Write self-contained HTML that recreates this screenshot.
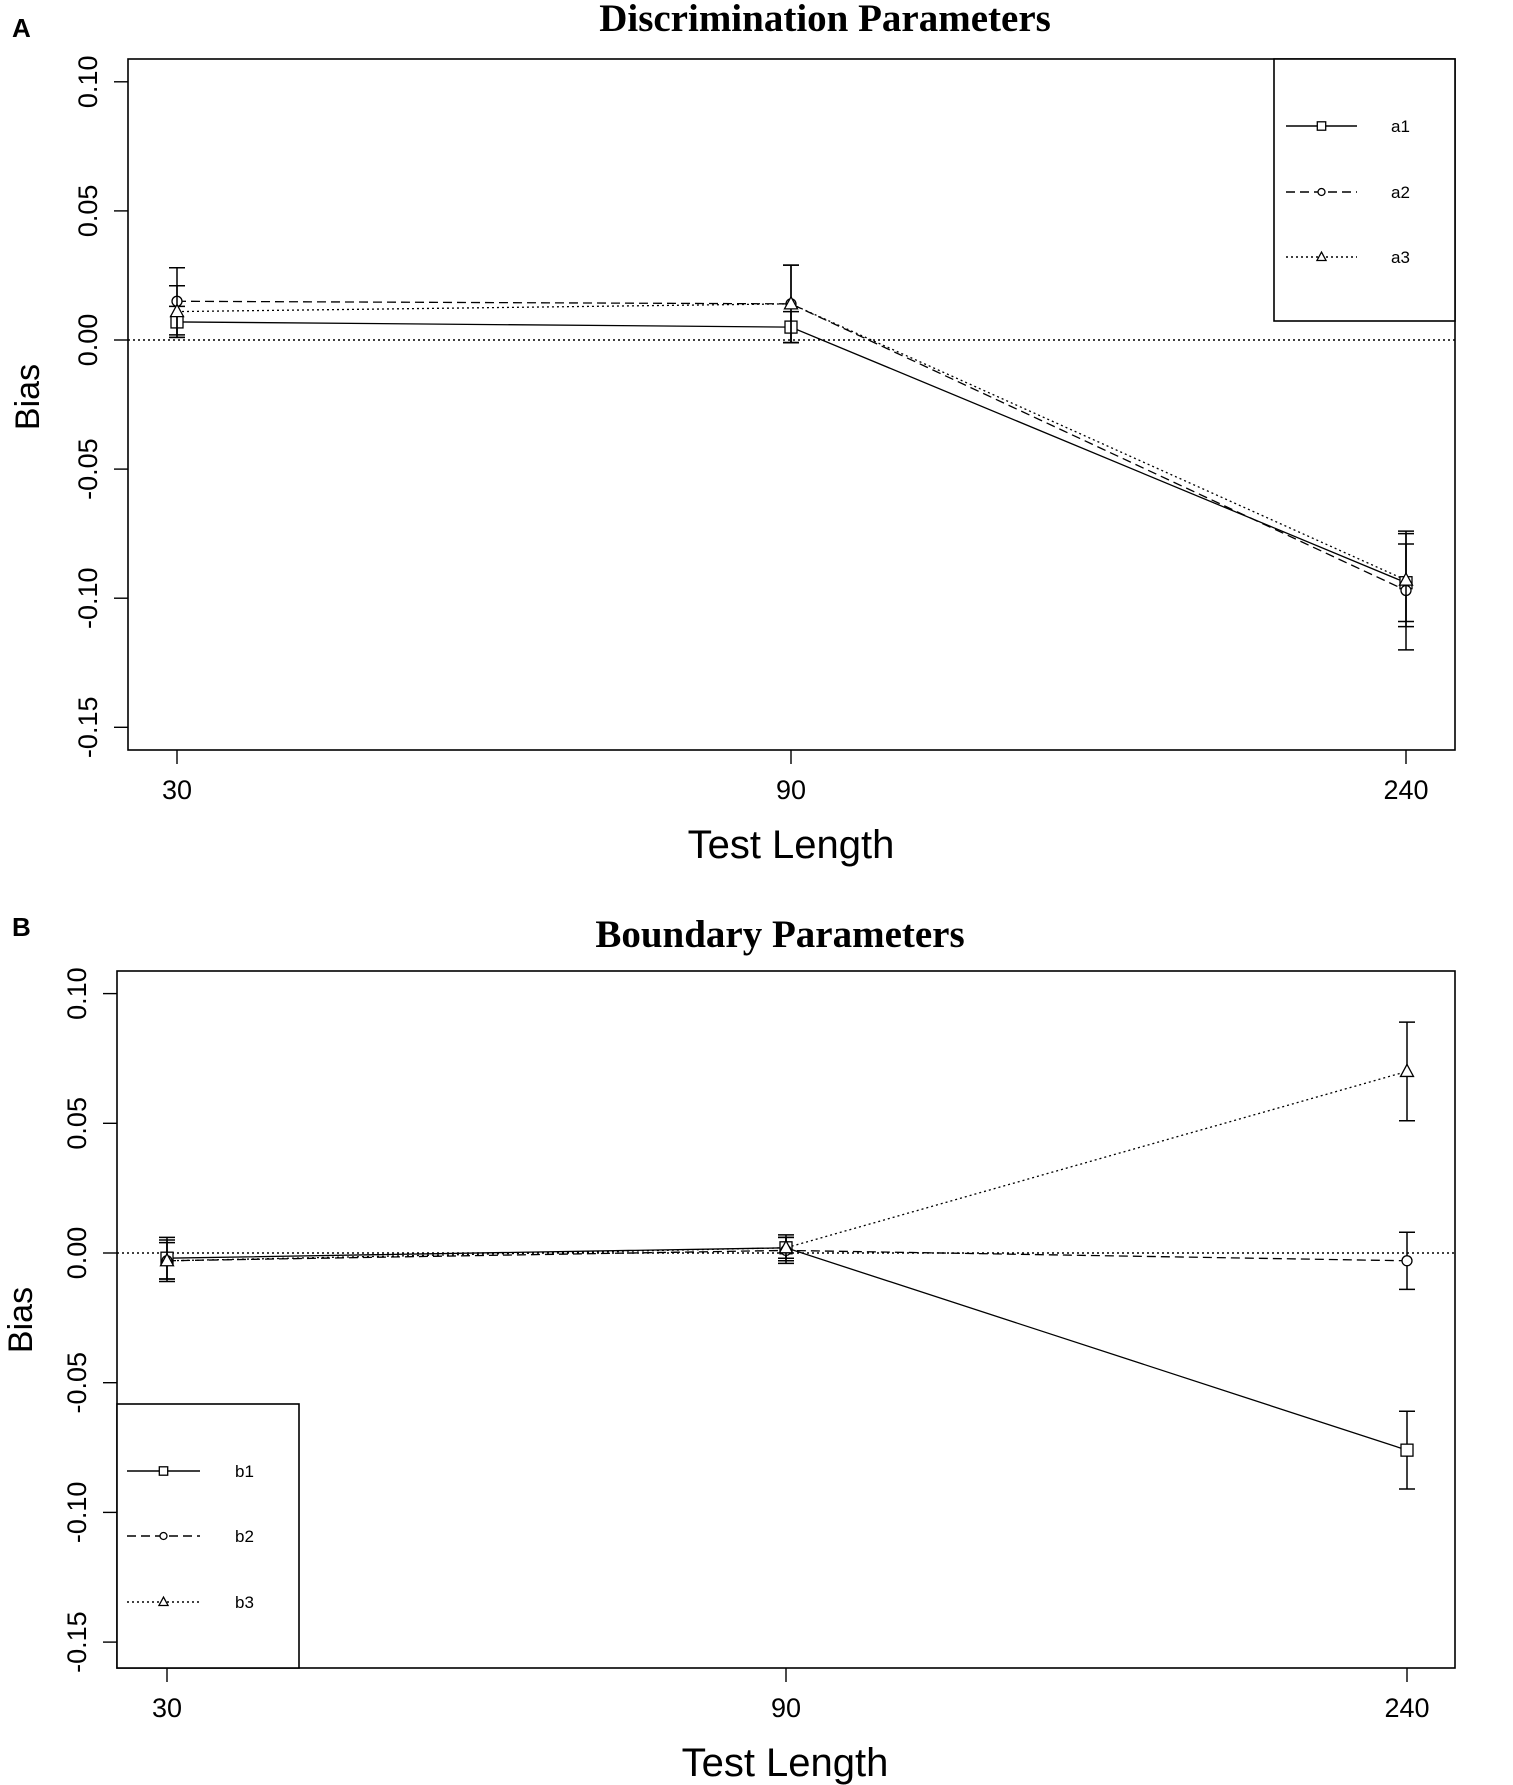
<!DOCTYPE html>
<html><head><meta charset="utf-8"><style>
html,body{margin:0;padding:0;background:#fff;}
svg{display:block;}
</style></head><body>
<svg id="fig" width="1513" height="1785" viewBox="0 0 1513 1785" xmlns="http://www.w3.org/2000/svg"></svg>
<script>
const categories = ["30","90","240"];
const yTicks = [0.10,0.05,0.00,-0.05,-0.10,-0.15];
const yTickLabels = ["0.10","0.05","0.00","-0.05","-0.10","-0.15"];
const aNames = ["a1","a2","a3"];
const a1Vals = [0.007,0.005,-0.094];
const a2Vals = [0.015,0.014,-0.097];
const a3Vals = [0.011,0.014,-0.093];
const a1Err = [0.006,0.006,0.015];
const a2Err = [0.013,0.015,0.023];
const a3Err = [0.010,0.015,0.018];
const bNames = ["b1","b2","b3"];
const b1Vals = [-0.002,0.002,-0.076];
const b2Vals = [-0.003,0.001,-0.003];
const b3Vals = [-0.003,0.002,0.070];
const b1Err = [0.008,0.004,0.015];
const b2Err = [0.008,0.005,0.011];
const b3Err = [0.007,0.005,0.019];

const NS="http://www.w3.org/2000/svg";
const svg=document.getElementById('fig');
function mk(tag,attrs,parent){const e=document.createElementNS(NS,tag);for(const k in attrs)e.setAttribute(k,attrs[k]);(parent||svg).appendChild(e);return e;}
const dashes=["none","9,5","2,3"];

function panel(cfg){
  const g=mk('g',{});
  
  
  const y=v=>cfg.y0-v/0.05*cfg.step;
  const x=i=>cfg.xs[i];
  const t=mk('text',{x:cfg.titleX,y:cfg.titleY,'text-anchor':'middle','font-family':'Liberation Serif, serif','font-weight':'bold','font-size':39},g);
  t.textContent=cfg.title;
  
  
  const L=mk('text',{x:cfg.letterX,y:cfg.letterY,'font-family':'Liberation Sans, sans-serif','font-weight':'bold','font-size':26},g);
  L.textContent=cfg.letter;
  
  
  const box=mk('rect',{x:cfg.bx,y:cfg.by,width:cfg.bw,height:cfg.bh,fill:'none',stroke:'#000','stroke-width':1.6},g);
  
  
  yTicks.forEach((v,i)=>{
    const yy=y(v);
    mk('line',{x1:cfg.bx-14,x2:cfg.bx,y1:yy,y2:yy,stroke:'#000','stroke-width':1.4},g);
    const tx=mk('text',{x:0,y:0,transform:`translate(${cfg.bx-31},${yy}) rotate(-90)`,'text-anchor':'middle','font-family':'Liberation Sans, sans-serif','font-size':27},g);
    tx.textContent=yTickLabels[i];
    
    
  });
  const yl=mk('text',{x:0,y:0,transform:`translate(${cfg.biasX},${cfg.biasY}) rotate(-90)`,'text-anchor':'middle','font-family':'Liberation Sans, sans-serif','font-size':34},g);
  yl.textContent='Bias';
  
  
  categories.forEach((c,i)=>{
    mk('line',{x1:x(i),x2:x(i),y1:cfg.by+cfg.bh,y2:cfg.by+cfg.bh+14,stroke:'#000','stroke-width':1.4},g);
    const tx=mk('text',{x:x(i),y:cfg.by+cfg.bh+49,'text-anchor':'middle','font-family':'Liberation Sans, sans-serif','font-size':27},g);
    tx.textContent=c;
    
    
  });
  const xl=mk('text',{x:cfg.xlX,y:cfg.xlY,'text-anchor':'middle','font-family':'Liberation Sans, sans-serif','font-size':40},g);
  xl.textContent='Test Length';
  
  
  const z=mk('line',{x1:cfg.bx,x2:cfg.bx+cfg.bw,y1:y(0),y2:y(0),stroke:'#000','stroke-width':1.4,'stroke-dasharray':'2,3'},g);
  
  
  cfg.series.forEach((s,si)=>{
    const sg=mk('g',{},g);
    
    
    const pts=s.vals.map((v,i)=>x(i)+','+y(v)).join(' ');
    mk('polyline',{points:pts,fill:'none',stroke:'#000','stroke-width':1.3,'stroke-dasharray':dashes[si]},sg);
    s.vals.forEach((v,i)=>{
      const cx=x(i),hi=y(v+s.err[i]),lo=y(v-s.err[i]);
      const eb=mk('path',{d:`M${cx},${hi}V${lo}M${cx-8},${hi}H${cx+8}M${cx-8},${lo}H${cx+8}`,stroke:'#000','stroke-width':1.5,fill:'none'},sg);
      
      
      marker(si,cx,y(v),sg);
    });
  });
  const lg=mk('g',{},g);
  
  
  mk('rect',{x:cfg.lx,y:cfg.ly,width:cfg.lw,height:cfg.lh,fill:'#fff',stroke:'#000','stroke-width':1.6},lg);
  cfg.names.forEach((n,i)=>{
    const ey=cfg.leY[i];
    const eg=mk('g',{},lg);
    
    
    mk('line',{x1:cfg.llx1,x2:cfg.llx2,y1:ey,y2:ey,stroke:'#000','stroke-width':1.4,'stroke-dasharray':dashes[i]},eg);
    marker(i,(cfg.llx1+cfg.llx2)/2,ey,eg,0.7);
    const tt=mk('text',{x:cfg.ltx,y:ey+6,'font-family':'Liberation Sans, sans-serif','font-size':17},eg);
    tt.textContent=n;
  });
}
function marker(si,cx,cy,p,s){
  s=s||1;
  if(si===0) mk('rect',{x:cx-6*s,y:cy-6*s,width:12*s,height:12*s,fill:'#fff',stroke:'#000','stroke-width':1.3},p);
  else if(si===1) mk('circle',{cx:cx,cy:cy,r:5*s,fill:'#fff',stroke:'#000','stroke-width':1.3},p);
  else mk('path',{d:`M${cx},${cy-7*s}L${cx+6.5*s},${cy+5*s}L${cx-6.5*s},${cy+5*s}Z`,fill:'#fff',stroke:'#000','stroke-width':1.3},p);
}
panel({id:'discrimination',title:'Discrimination Parameters',titleX:825,titleY:31,letter:'A',letterX:12,letterY:37,
  bx:128,by:59,bw:1327,bh:691,y0:340,step:129.1,xs:[177,791,1406],biasX:39,biasY:397,xlX:791,xlY:858,
  names:aNames,series:[{vals:a1Vals,err:a1Err},{vals:a2Vals,err:a2Err},{vals:a3Vals,err:a3Err}],
  lx:1274,ly:59,lw:181,lh:262,leY:[126,192,257],llx1:1286,llx2:1357,ltx:1391});
panel({id:'boundary',title:'Boundary Parameters',titleX:780,titleY:947,letter:'B',letterX:12,letterY:936,
  bx:117,by:971,bw:1338,bh:697,y0:1253,step:129.7,xs:[167,786,1407],biasX:32,biasY:1320,xlX:785,xlY:1776,
  names:bNames,series:[{vals:b1Vals,err:b1Err},{vals:b2Vals,err:b2Err},{vals:b3Vals,err:b3Err}],
  lx:117,ly:1404,lw:182,lh:264,leY:[1471,1536,1602],llx1:127,llx2:200,ltx:235});
</script>
</body></html>
